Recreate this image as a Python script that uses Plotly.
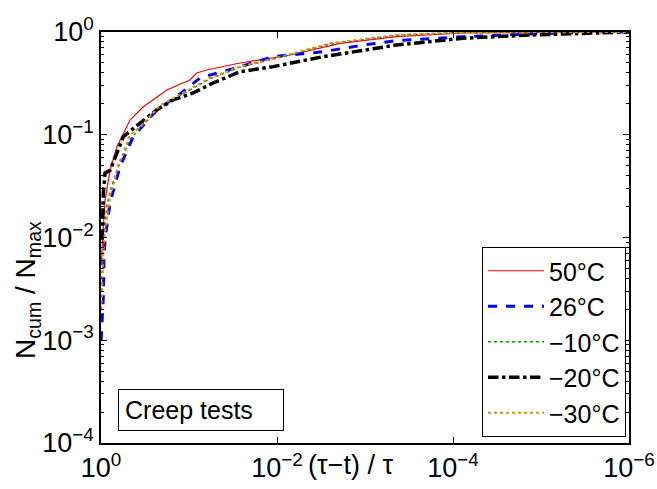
import plotly.graph_objects as go

# ---- data ----
x_50 = [0.987, 0.96, 0.90, 0.79, 0.66, 0.468, 0.333, 0.179, 0.0977, 0.0818, 0.063, 0.0263, 0.0071, 0.0019, 4.4e-4, 7.7e-5, 1e-6]
y_50 = [0.0054, 0.0095, 0.023, 0.045, 0.0765, 0.139, 0.186, 0.273, 0.341, 0.399, 0.427, 0.499, 0.597, 0.776, 0.90, 0.978, 1.0]

x_26 = [0.995, 0.94, 0.925, 0.90, 0.79, 0.608, 0.43, 0.233, 0.138, 0.075, 0.0263, 0.0111, 0.003, 1.05e-3, 4.4e-4, 7.7e-5, 1.33e-5, 2.3e-6, 1e-6]
y_26 = [0.001, 0.00265, 0.0065, 0.0095, 0.0217, 0.0489, 0.0957, 0.174, 0.235, 0.357, 0.46, 0.575, 0.643, 0.747, 0.823, 0.90, 0.957, 1.0, 1.0]

x_m10 = [0.99, 0.957, 0.92, 0.86, 0.79, 0.66, 0.56, 0.47, 0.36, 0.21, 0.117, 0.058, 0.0263, 0.0093, 0.0025, 4.4e-4, 7.7e-5, 1e-6]
y_m10 = [0.003, 0.006, 0.012, 0.02, 0.028, 0.045, 0.062, 0.09, 0.115, 0.19, 0.25, 0.35, 0.455, 0.565, 0.76, 0.93, 0.99, 1.0]

x_m20 = [0.97, 0.94, 0.90, 0.79, 0.66, 0.558, 0.36, 0.233, 0.152, 0.09, 0.0533, 0.0263, 0.0111, 0.003, 4.4e-4, 7.7e-5, 1.33e-5, 2.3e-6, 1e-6]
y_m20 = [0.0095, 0.027, 0.0425, 0.045, 0.066, 0.0957, 0.13, 0.174, 0.218, 0.255, 0.319, 0.411, 0.46, 0.575, 0.747, 0.869, 0.935, 0.985, 1.0]

x_m30 = [0.99, 0.957, 0.925, 0.855, 0.79, 0.73, 0.64, 0.56, 0.468, 0.36, 0.21, 0.117, 0.058, 0.0263, 0.0093, 0.0025, 4.4e-4, 7.7e-5, 1e-6]
y_m30 = [0.002, 0.0045, 0.0095, 0.0148, 0.026, 0.031, 0.0508, 0.066, 0.1, 0.119, 0.195, 0.255, 0.357, 0.46, 0.571, 0.776, 0.935, 0.99, 1.0]

labels = ["50°C", "26°C", "−10°C", "−20°C", "−30°C"]
x_ticks = [1, 1e-2, 1e-4, 1e-6]
x_ticktext = ["10<sup>0</sup>", "10<sup>−2</sup>", "10<sup>−4</sup>", "10<sup>−6</sup>"]
y_ticks = [1, 1e-1, 1e-2, 1e-3, 1e-4]
y_ticktext = ["10<sup>0</sup>", "10<sup>−1</sup>", "10<sup>−2</sup>", "10<sup>−3</sup>", "10<sup>−4</sup>"]

series = [(x_50, y_50), (x_26, y_26), (x_m10, y_m10), (x_m20, y_m20), (x_m30, y_m30)]
styles = [
    dict(color="#ff0000", width=1.2, dash="solid"),
    dict(color="#0000ff", width=3, dash="dash"),
    dict(color="#1a8a1a", width=1.5, dash="dot"),
    dict(color="#000000", width=3.5, dash="dashdot"),
    dict(color="#e08a1e", width=2, dash="dot"),
]

FONT = "Liberation Sans, Arial, sans-serif"
fig = go.Figure()
for (xs, ys), lab, st in zip(series, labels, styles):
    fig.add_trace(go.Scatter(x=xs, y=ys, mode="lines", name=lab, line=st))

W, H = 657, 489
L, R, T, B = 101, 28, 32, 46
pw, ph = W - L - R, H - T - B

def px(xp):
    return (xp - L) / pw

def py(yp):
    return (H - B - yp) / ph

axis_common = dict(
    showgrid=False, zeroline=False, showline=True, linecolor="black", linewidth=1.5,
    mirror="ticks", ticks="inside", ticklen=6, tickcolor="black", tickwidth=1,
    tickfont=dict(family=FONT, size=27, color="black"), automargin=False,
)
fig.update_xaxes(type="log", range=[0, -6], autorange=False, tickvals=x_ticks, ticktext=x_ticktext, **axis_common)
fig.update_yaxes(type="log", range=[-4, 0], autorange=False, tickvals=y_ticks, ticktext=y_ticktext,
                 minor=dict(ticks="inside", ticklen=3, tickcolor="black", dtick="D1"), **axis_common)

fig.update_layout(
    width=W, height=H,
    margin=dict(l=L, r=R, t=T, b=B, autoexpand=False),
    plot_bgcolor="white", paper_bgcolor="white",
    font=dict(family=FONT, size=26, color="black"),
    legend=dict(
        x=px(626), y=py(437), xanchor="right", yanchor="bottom",
        bordercolor="black", borderwidth=1, bgcolor="white",
        font=dict(family=FONT, size=25, color="black"),
        tracegroupgap=0, itemwidth=56,
    ),
    annotations=[
        dict(text="(τ−t) / τ", x=px(350), y=py(465), xref="paper", yref="paper",
             xanchor="center", yanchor="middle",
             showarrow=False, font=dict(family=FONT, size=27, color="black")),
        dict(text="N<sub>cum</sub> / N<sub>max</sub>", x=px(27), y=py(290), xref="paper", yref="paper",
             xanchor="center", yanchor="middle",
             textangle=-90, showarrow=False, font=dict(family=FONT, size=28, color="black")),
        dict(text="Creep tests", x=px(118), y=py(410), xref="paper", yref="paper",
             xanchor="left", yanchor="middle", showarrow=False,
             bordercolor="black", borderwidth=1, borderpad=6, bgcolor="white",
             width=152, align="left",
             font=dict(family=FONT, size=25, color="black")),
    ],
)

fig.write_html("out.html", config={"displayModeBar": False},
               post_script="document.body.style.margin='0';document.body.style.overflow='hidden';")
